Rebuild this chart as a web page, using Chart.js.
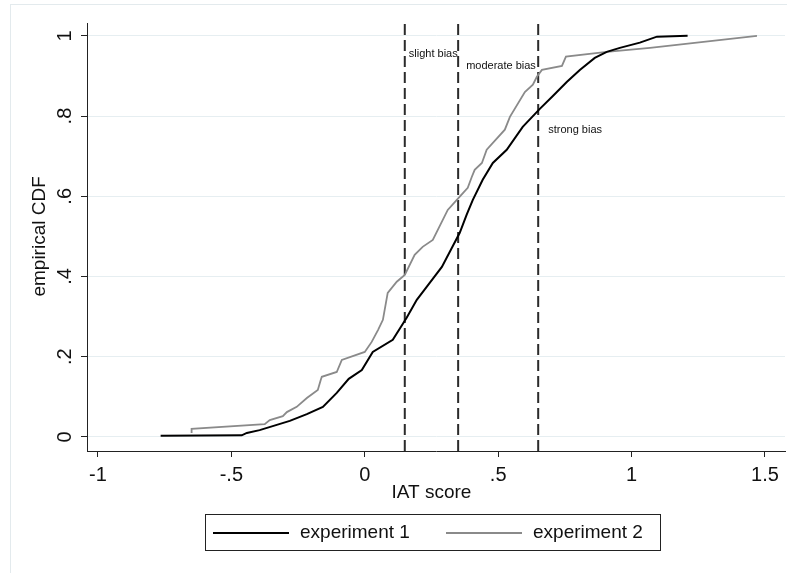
<!DOCTYPE html>
<html>
<head>
<meta charset="utf-8">
<script src="https://cdn.jsdelivr.net/npm/chart.js"></script>
<style>
  html, body { margin: 0; padding: 0; background: #fff; }
  #wrap { width: 787px; height: 573px; }
</style>
</head>
<body>
<div id="wrap"><canvas id="cdf" width="787" height="573"></canvas></div>
<script>
// IAT score ECDF
const exp1X = [-0.765, -0.461, -0.442, -0.394, -0.345, -0.281, -0.217, -0.157, -0.105, -0.060, -0.011, 0.030, 0.105, 0.157, 0.195, 0.232, 0.289, 0.356, 0.382, 0.405, 0.442, 0.480, 0.532, 0.592, 0.656, 0.705, 0.757, 0.806, 0.862, 0.907, 0.956, 1.031, 1.095, 1.210];
const exp1Y = [0.003, 0.004, 0.010, 0.017, 0.027, 0.040, 0.057, 0.075, 0.110, 0.145, 0.167, 0.212, 0.242, 0.297, 0.342, 0.374, 0.424, 0.509, 0.554, 0.591, 0.641, 0.683, 0.716, 0.773, 0.818, 0.850, 0.885, 0.915, 0.945, 0.960, 0.970, 0.983, 0.998, 1.000];

const exp2X = [-0.649, -0.649, -0.375, -0.356, -0.307, -0.292, -0.255, -0.217, -0.176, -0.165, -0.161, -0.105, -0.086, 0.000, 0.026, 0.050, 0.068, 0.086, 0.120, 0.150, 0.187, 0.217, 0.255, 0.311, 0.356, 0.386, 0.401, 0.412, 0.439, 0.457, 0.525, 0.544, 0.600, 0.630, 0.645, 0.664, 0.739, 0.754, 0.907, 1.069, 1.470];
const exp2Y = [0.010, 0.020, 0.032, 0.042, 0.052, 0.062, 0.075, 0.097, 0.117, 0.142, 0.150, 0.162, 0.192, 0.212, 0.237, 0.267, 0.292, 0.359, 0.387, 0.404, 0.454, 0.474, 0.491, 0.566, 0.599, 0.621, 0.648, 0.666, 0.683, 0.716, 0.766, 0.798, 0.860, 0.878, 0.898, 0.915, 0.925, 0.948, 0.960, 0.970, 1.000];

const biasCutoffs = [0.15, 0.35, 0.65];
const biasLabels = ['slight bias', 'moderate bias', 'strong bias'];
const seriesNames = ['experiment 1', 'experiment 2'];

const xTicks = [-1, -0.5, 0, 0.5, 1, 1.5];
const yTicks = [0, 0.2, 0.4, 0.6, 0.8, 1];
const xMin = -1.041, xMax = 1.575;
const yMin = -0.035, yMax = 1.032;

const FONT = "'Liberation Sans', Arial, sans-serif";
const fmt = v => String(v).replace('0.', '.');
const toPts = (xs, ys) => xs.map((x, i) => ({ x, y: ys[i] }));

const cutoffSets = biasCutoffs.map(c => ({
  label: 'cutoff ' + c,
  data: [{ x: c, y: yMin }, { x: c, y: yMax }],
  borderColor: '#2b2b2b',
  borderWidth: 2,
  borderDash: [11, 5],
  pointRadius: 0,
  order: 5
}));

// extra drawing: frame, rotated y labels, titles, bias notes, legend box
const decor = {
  id: 'decor',
  beforeDraw(chart) {
    const ctx = chart.ctx;
    ctx.save();
    ctx.fillStyle = '#fff';
    ctx.fillRect(0, 0, chart.width, chart.height);
    ctx.strokeStyle = '#e3eaed';
    ctx.lineWidth = 1;
    ctx.strokeRect(10.5, 4.5, 900, 900);
    ctx.restore();
  },
  afterDraw(chart) {
    const ctx = chart.ctx;
    const xs = chart.scales.x, ys = chart.scales.y;
    ctx.save();
    ctx.fillStyle = '#111';
    ctx.textAlign = 'center';
    ctx.textBaseline = 'middle';

    // y tick labels, rotated like the original
    ctx.font = '20px ' + FONT;
    yTicks.forEach(v => {
      ctx.save();
      ctx.translate(65, ys.getPixelForValue(v));
      ctx.rotate(-Math.PI / 2);
      ctx.fillText(fmt(v), 0, 0);
      ctx.restore();
    });

    // axis titles
    ctx.font = '19px ' + FONT;
    ctx.save();
    ctx.translate(40, ys.getPixelForValue(0.5));
    ctx.rotate(-Math.PI / 2);
    ctx.fillText('empirical CDF', 0, 0);
    ctx.restore();
    ctx.fillText('IAT score', (xs.getPixelForValue(0) + xs.getPixelForValue(0.5)) / 2, 493);

    // bias notes next to the cutoff lines
    ctx.font = '11px ' + FONT;
    ctx.textAlign = 'left';
    const noteY = [0.955, 0.925, 0.766];
    const noteDx = [4, 8, 10];
    biasLabels.forEach((t, i) => {
      ctx.fillText(t, xs.getPixelForValue(biasCutoffs[i]) + noteDx[i], ys.getPixelForValue(noteY[i]));
    });

    // legend
    ctx.strokeStyle = '#222';
    ctx.lineWidth = 1;
    ctx.strokeRect(205.5, 514.5, 455, 36);
    ctx.font = '19px ' + FONT;
    const ds = chart.data.datasets;
    const items = [{ x0: 213, x1: 289, tx: 300 }, { x0: 446, x1: 522, tx: 533 }];
    items.forEach((it, i) => {
      ctx.strokeStyle = ds[i].borderColor;
      ctx.lineWidth = ds[i].borderWidth;
      ctx.beginPath();
      ctx.moveTo(it.x0, 533);
      ctx.lineTo(it.x1, 533);
      ctx.stroke();
      ctx.fillStyle = '#111';
      ctx.fillText(seriesNames[i], it.tx, 533);
    });
    ctx.restore();
  }
};

new Chart(document.getElementById('cdf').getContext('2d'), {
  type: 'line',
  data: {
    datasets: [
      { label: seriesNames[0], data: toPts(exp1X, exp1Y), borderColor: '#000', borderWidth: 2, pointRadius: 0, tension: 0, order: 1 },
      { label: seriesNames[1], data: toPts(exp2X, exp2Y), borderColor: '#8a8a8a', borderWidth: 1.8, pointRadius: 0, tension: 0, order: 2 },
      ...cutoffSets
    ]
  },
  options: {
    responsive: false,
    animation: false,
    devicePixelRatio: 1,
    layout: { padding: { top: 23, right: 2, left: 0, bottom: 0 } },
    plugins: { legend: { display: false }, tooltip: { enabled: false } },
    scales: {
      x: {
        type: 'linear',
        min: xMin, max: xMax,
        afterBuildTicks: s => { s.ticks = xTicks.map(v => ({ value: v })); },
        afterFit: s => { s.height = 122; },
        ticks: { callback: v => fmt(v), color: '#111', font: { size: 20, family: FONT }, padding: 6, maxRotation: 0, autoSkip: false },
        grid: { drawOnChartArea: false, drawTicks: true, tickLength: 6, tickColor: '#222' },
        border: { color: '#222', width: 1 }
      },
      y: {
        type: 'linear',
        min: yMin, max: yMax,
        afterBuildTicks: s => { s.ticks = yTicks.map(v => ({ value: v })); },
        afterFit: s => { s.width = 87; },
        ticks: { callback: v => fmt(v), color: 'rgba(0,0,0,0)', font: { size: 18, family: FONT } },
        grid: { color: '#e6eef1', lineWidth: 1, tickLength: 6, tickColor: '#222' },
        border: { color: '#222', width: 1 }
      }
    }
  },
  plugins: [decor]
});
</script>
</body>
</html>
